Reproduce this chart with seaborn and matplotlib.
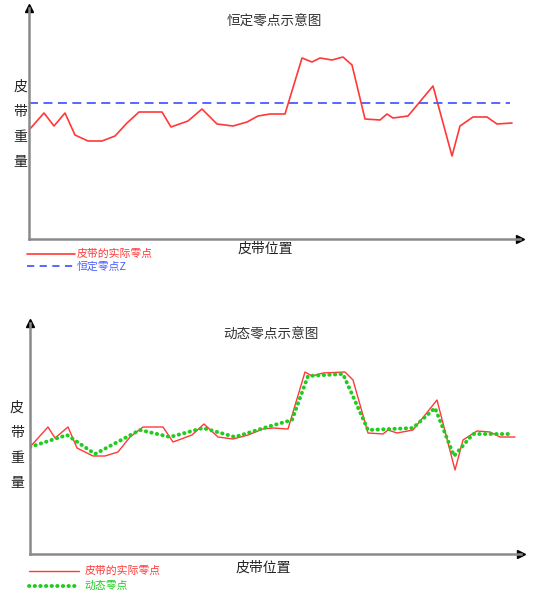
import matplotlib
matplotlib.use("Agg")
import matplotlib.pyplot as plt
import seaborn as sns
import pandas as pd
from matplotlib.lines import Line2D

sns.set_theme(style="white")
plt.rcParams['font.family'] = ['Noto Sans CJK SC', 'DejaVu Sans']

# ---- data (belt position vs belt weight, arbitrary units) ----
top_actual_x = [0, 15, 25, 36, 46, 59, 73, 86, 98, 110, 133, 142, 159, 173, 188, 204, 218, 229, 241,
                256, 273, 283, 291, 303, 314, 323, 336, 351, 358, 364, 379, 404, 423, 431, 444, 458, 468, 483]
top_actual_y = [109, 126, 113, 126, 104, 98, 98, 103, 116, 127, 127, 112, 118, 130, 115, 113, 117, 123, 125,
                125, 181, 177, 181, 179, 182, 174, 120, 119, 125, 121, 123, 153, 83, 113, 122, 122, 115, 116]
const_zero_x = [0, 481]
const_zero_y = [136.3, 136.3]

bot_actual_x = [0, 18, 25, 38, 47, 63, 75, 88, 100, 113, 133, 143, 162, 174, 188, 203, 218, 233, 243,
                258, 275, 282, 293, 315, 323, 338, 353, 358, 367, 383, 407, 425, 433, 447, 460, 470, 485]
bot_actual_y = [107, 127, 116, 127, 106, 98, 98, 102, 117, 127, 127, 112, 119, 130, 117, 115, 119, 125, 126,
                125, 182, 178, 181, 182, 174, 121, 120, 124, 121, 124, 154, 84, 114, 123, 122, 117, 117]
dyn_zero_x = [0, 37, 65, 110, 140, 173, 205, 237, 262, 278, 313, 338, 383, 405, 424, 443, 482]
dyn_zero_y = [107, 119, 100, 124, 117, 126, 117, 127, 134, 178, 180, 124, 126, 146, 98, 120, 120]

titles = ["恒定零点示意图", "动态零点示意图"]
ylabel_chars = ["皮", "带", "重", "量"]
xlabel = "皮带位置"
label_actual = "皮带的实际零点"
label_const = "恒定零点Z"
label_dyn = "动态零点"

W, H = 540, 592
fig = plt.figure(figsize=(W / 100, H / 100), dpi=100)


def fx(x):
    return x / W


def fy(y):
    return (H - y) / H


RED = "#ff3838"
BLUE = "#4a5cff"
GREEN = "#1fcc1f"
AXC = "#8a8a8a"
DOTS = (0, (0.1, 1.35))


def make_axes(left, bottom):
    ax = fig.add_axes([fx(left), fy(bottom), 491 / W, 231 / H])
    ax.set_xlim(0, 491)
    ax.set_ylim(0, 231)
    for s in ["top", "right"]:
        ax.spines[s].set_visible(False)
    for s in ["left", "bottom"]:
        ax.spines[s].set_color(AXC)
        ax.spines[s].set_linewidth(1.8)
    ax.set_xticks([])
    ax.set_yticks([])
    ax.plot([0], [231], marker="^", color="black", markersize=5.5, clip_on=False)
    ax.plot([491], [0], marker=">", color="black", markersize=5.5, clip_on=False)
    return ax


# ---- top chart ----
ax1 = make_axes(29, 239)
df1 = pd.DataFrame({"x": top_actual_x, "y": top_actual_y})
sns.lineplot(data=df1, x="x", y="y", ax=ax1, color=RED, linewidth=1.2, sort=False)
df1b = pd.DataFrame({"x": const_zero_x, "y": const_zero_y})
sns.lineplot(data=df1b, x="x", y="y", ax=ax1, color=BLUE, linewidth=1.3, sort=False,
             linestyle=(0, (5, 3)))
ax1.set_xlabel("")
ax1.set_ylabel("")

fig.text(fx(274), fy(22), titles[0], ha="center", va="center", fontsize=9.8, color="#333333")
for i, ch in enumerate(ylabel_chars):
    fig.text(fx(20), fy(87 + 25 * i), ch, ha="center", va="center", fontsize=10, color="#222222")
fig.text(fx(265), fy(249), xlabel, ha="center", va="center", fontsize=10, color="#222222")

h1 = [Line2D([], [], color=RED, linewidth=1.2),
      Line2D([], [], color=BLUE, linewidth=1.3, linestyle=(0, (4, 3)))]
fig.legend(h1, [label_actual, label_const], loc="upper left",
           bbox_to_anchor=(fx(27), fy(249)), bbox_transform=fig.transFigure,
           frameon=False, fontsize=7.8, handlelength=4.4, handletextpad=0.15,
           labelspacing=0.2, borderpad=0, borderaxespad=0, labelcolor="linecolor")

# ---- bottom chart ----
ax2 = make_axes(30, 554)
df2 = pd.DataFrame({"x": bot_actual_x, "y": bot_actual_y})
sns.lineplot(data=df2, x="x", y="y", ax=ax2, color=RED, linewidth=1.0, sort=False)
df2b = pd.DataFrame({"x": dyn_zero_x, "y": dyn_zero_y})
sns.lineplot(data=df2b, x="x", y="y", ax=ax2, color=GREEN, linewidth=2.8, sort=False,
             linestyle=DOTS, dash_capstyle="round")
ax2.set_xlabel("")
ax2.set_ylabel("")

fig.text(fx(271), fy(335), titles[1], ha="center", va="center", fontsize=9.8, color="#333333")
for i, ch in enumerate(ylabel_chars):
    fig.text(fx(17), fy(408 + 25 * i), ch, ha="center", va="center", fontsize=10, color="#222222")
fig.text(fx(263), fy(568), xlabel, ha="center", va="center", fontsize=10, color="#222222")

h2 = [Line2D([], [], color=RED, linewidth=1.0),
      Line2D([], [], color=GREEN, linewidth=2.8, linestyle=DOTS, dash_capstyle="round")]
fig.legend(h2, [label_actual, label_dyn], loc="upper left",
           bbox_to_anchor=(fx(29), fy(566)), bbox_transform=fig.transFigure,
           frameon=False, fontsize=7.8, handlelength=4.6, handletextpad=0.5,
           labelspacing=0.45, borderpad=0, borderaxespad=0, labelcolor="linecolor")

fig.savefig("out.png", dpi=100)
